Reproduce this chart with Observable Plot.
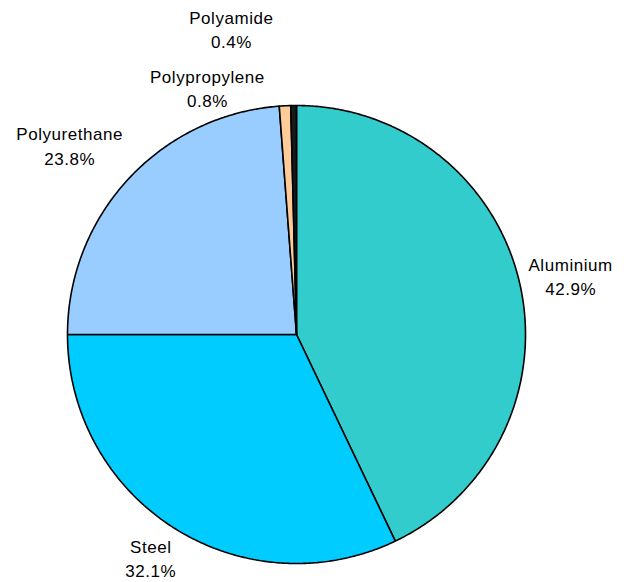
<!DOCTYPE html>
<html>
<head>
<meta charset="utf-8">
<script src="https://cdn.jsdelivr.net/npm/d3@7"></script>
<script src="https://cdn.jsdelivr.net/npm/@observablehq/plot@0.6"></script>
<style>
  html, body { margin: 0; padding: 0; background: #ffffff; }
  #chart { width: 628px; height: 582px; }
  #chart svg text { letter-spacing: 0.55px; }
</style>
</head>
<body>
<div id="chart"></div>
<script>
// Data
const materials = ["Aluminium", "Steel", "Polyurethane", "Polypropylene", "Polyamide"];
const shares = [42.9, 32.1, 23.8, 0.8, 0.4];
const colors = ["#33CCCC", "#00CCFF", "#99CCFF", "#FFCC99", "#1a1a1a"];

// Label layout (polar: angle in degrees clockwise from 12 o'clock, radius in pie radii)
const labelAngles = [77.75, 213.2, 309.9, 340.2, 348.0];
const labelRadii = [1.225, 1.162, 1.291, 1.149, 1.368];

const pie = d3.pie().sort(null).value(d => d)(shares);

// Build slice outlines in unit coordinates
const slicePts = [];
pie.forEach((p, i) => {
  const name = materials[i];
  slicePts.push({name, x: 0, y: 0});
  const steps = Math.max(2, Math.ceil((p.endAngle - p.startAngle) / (Math.PI / 360)));
  for (let k = 0; k <= steps; k++) {
    const a = p.startAngle + (p.endAngle - p.startAngle) * k / steps;
    slicePts.push({name, x: Math.sin(a), y: Math.cos(a)});
  }
  slicePts.push({name, x: 0, y: 0});
});

const labels = materials.map((m, i) => {
  const a = labelAngles[i] * Math.PI / 180;
  return {
    name: m,
    text: m + "\n" + shares[i].toFixed(1) + "%",
    x: labelRadii[i] * Math.sin(a),
    y: labelRadii[i] * Math.cos(a)
  };
});

const chart = Plot.plot({
  width: 628,
  height: 582,
  margin: 0,
  style: {background: "#ffffff", fontFamily: "'Liberation Sans', Arial, sans-serif"},
  x: {domain: [-1, 1], range: [67, 525], axis: null},
  y: {domain: [-1, 1], range: [563, 105], axis: null},
  color: {domain: materials, range: colors},
  marks: [
    Plot.line(slicePts, {
      x: "x", y: "y", z: "name",
      fill: "name",
      stroke: "#000000",
      strokeWidth: 1.6,
      strokeLinejoin: "miter",
      curve: "linear"
    }),
    Plot.text(labels, {
      x: "x", y: "y", text: "text",
      fontSize: 17,
      lineHeight: 1.45,
      lineAnchor: "middle",
      textAnchor: "middle",
      fill: "#000000"
    })
  ]
});
document.getElementById("chart").appendChild(chart);
</script>
</body>
</html>
